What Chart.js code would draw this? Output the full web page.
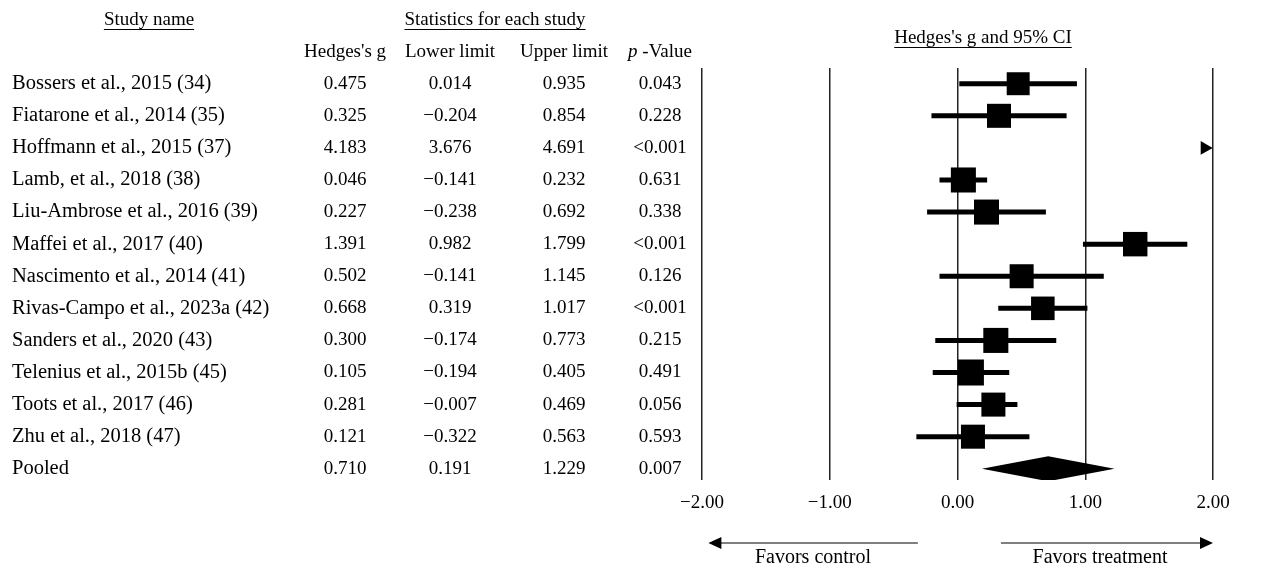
<!DOCTYPE html>
<html>
<head>
<meta charset="utf-8">
<script src="https://cdn.jsdelivr.net/npm/chart.js@4.4.0/dist/chart.umd.min.js"></script>
<style>
  html, body { margin: 0; padding: 0; background: #fff; }
</style>
</head>
<body>
<canvas id="forest" width="1262" height="571"></canvas>
<script>
const studies = [
  'Bossers et al., 2015 (34)',
  'Fiatarone et al., 2014 (35)',
  'Hoffmann et al., 2015 (37)',
  'Lamb, et al., 2018 (38)',
  'Liu-Ambrose et al., 2016 (39)',
  'Maffei et al., 2017 (40)',
  'Nascimento et al., 2014 (41)',
  'Rivas-Campo et al., 2023a (42)',
  'Sanders et al., 2020 (43)',
  'Telenius et al., 2015b (45)',
  'Toots et al., 2017 (46)',
  'Zhu et al., 2018 (47)'
];
const hedgesG    = [0.475, 0.325, 4.183, 0.046, 0.227, 1.391, 0.502, 0.668, 0.300, 0.105, 0.281, 0.121];
const lowerLimit = [0.014, -0.204, 3.676, -0.141, -0.238, 0.982, -0.141, 0.319, -0.174, -0.194, -0.007, -0.322];
const upperLimit = [0.935, 0.854, 4.691, 0.232, 0.692, 1.799, 1.145, 1.017, 0.773, 0.405, 0.469, 0.563];
const pValues    = ['0.043', '0.228', '<0.001', '0.631', '0.338', '<0.001', '0.126', '<0.001', '0.215', '0.491', '0.056', '0.593'];
// relative weights (%)
const weights    = [7.4, 8.1, 8.1, 8.8, 8.8, 8.4, 8.1, 7.8, 8.8, 9.5, 8.1, 8.1];

const pooledLabel = 'Pooled';
const pooledG = 0.710;
const pooledLower = 0.191;
const pooledUpper = 1.229;
const pooledP = '0.007';

const xTicks = [-2, -1, 0, 1, 2];
const xMin = xTicks[0];
const xMax = xTicks[xTicks.length - 1];

const SERIF = '"Liberation Serif", "Times New Roman", serif';
const pooledRow = studies.length;

function fmt(v) {
  const s = Math.abs(v).toFixed(3);
  return v < 0 ? '\u2212' + s : s;
}
function tickFmt(v) {
  const s = Math.abs(v).toFixed(2);
  return v < 0 ? '\u2212' + s : s;
}

function underlined(ctx, text, cx, cy) {
  ctx.textAlign = 'center';
  ctx.fillText(text, cx, cy);
  const w = ctx.measureText(text).width;
  ctx.fillRect(cx - w / 2, cy + 9, w, 1);
}

function arrow(ctx, x1, x2, y) {
  // shaft from x1 to tip at x2
  const dir = Math.sign(x2 - x1);
  ctx.beginPath();
  ctx.moveTo(x1, y);
  ctx.lineTo(x2 - dir * 10, y);
  ctx.lineWidth = 1.2;
  ctx.stroke();
  ctx.beginPath();
  ctx.moveTo(x2, y);
  ctx.lineTo(x2 - dir * 13, y - 6);
  ctx.lineTo(x2 - dir * 13, y + 6);
  ctx.closePath();
  ctx.fill();
}

const tablePlugin = {
  id: 'forestTable',
  afterDraw(chart) {
    const { ctx, scales: { x, y } } = chart;
    const cols = [345, 450, 564, 660];
    ctx.save();
    ctx.fillStyle = '#000';
    ctx.strokeStyle = '#000';
    ctx.textBaseline = 'middle';
    ctx.font = '19px ' + SERIF;

    // headers
    underlined(ctx, 'Study name', 149, 20);
    underlined(ctx, 'Statistics for each study', 495, 20);
    underlined(ctx, "Hedges's g and 95% CI", 983, 38);
    ctx.textAlign = 'center';
    ctx.fillText("Hedges's g", cols[0], 52);
    ctx.fillText('Lower limit', cols[1], 52);
    ctx.fillText('Upper limit', cols[2], 52);
    // p-Value with italic p
    ctx.font = 'italic 19px ' + SERIF;
    const pw = ctx.measureText('p').width;
    ctx.font = '19px ' + SERIF;
    const rest = ' -Value';
    const rw = ctx.measureText(rest).width;
    const start = cols[3] - (pw + rw) / 2;
    ctx.textAlign = 'left';
    ctx.font = 'italic 19px ' + SERIF;
    ctx.fillText('p', start, 52);
    ctx.font = '19px ' + SERIF;
    ctx.fillText(rest, start + pw, 52);

    // rows
    const rows = studies.map((name, i) => [name, hedgesG[i], lowerLimit[i], upperLimit[i], pValues[i]]);
    rows.push([pooledLabel, pooledG, pooledLower, pooledUpper, pooledP]);
    rows.forEach((r, i) => {
      const py = y.getPixelForValue(i);
      ctx.textAlign = 'left';
      ctx.font = '20.5px ' + SERIF;
      ctx.fillText(r[0], 12, py);
      ctx.font = '19px ' + SERIF;
      ctx.textAlign = 'center';
      ctx.fillText(fmt(r[1]), cols[0], py);
      ctx.fillText(fmt(r[2]), cols[1], py);
      ctx.fillText(fmt(r[3]), cols[2], py);
      ctx.fillText(r[4], cols[3], py);
    });

    // favours arrows
    const ay = 543;
    arrow(ctx, x.getPixelForValue(-0.31), x.getPixelForValue(-1.95), ay);
    arrow(ctx, x.getPixelForValue(0.34), x.getPixelForValue(2.0), ay);
    ctx.font = '20px ' + SERIF;
    ctx.textAlign = 'center';
    ctx.fillText('Favors control', 813, 558);
    ctx.fillText('Favors treatment', 1100, 558);
    ctx.restore();
  }
};

const ciLines = studies.map((s, i) => ({
  data: [{ x: lowerLimit[i], y: i }, { x: upperLimit[i], y: i }],
  showLine: true,
  borderColor: '#000',
  borderWidth: 5,
  pointRadius: 0
}));

const squares = {
  data: hedgesG.map((g, i) => ({ x: g, y: i })),
  pointStyle: 'rect',
  pointRadius: weights.map(w => 8.44 * Math.sqrt(w) / Math.SQRT2),
  backgroundColor: '#000',
  borderWidth: 0
};

// studies whose estimate lies off the right edge get an arrow marker
const offScale = {
  data: hedgesG.map((g, i) => g > xMax ? { x: xMax - 0.065, y: i } : null).filter(Boolean),
  pointStyle: 'triangle',
  rotation: 90,
  pointRadius: 8,
  backgroundColor: '#000',
  borderWidth: 0
};

const diamond = {
  data: [
    { x: pooledLower, y: pooledRow },
    { x: pooledG, y: pooledRow - 0.39 },
    { x: pooledUpper, y: pooledRow },
    { x: pooledG, y: pooledRow + 0.39 },
    { x: pooledLower, y: pooledRow }
  ],
  showLine: true,
  fill: 'shape',
  clip: false,
  backgroundColor: '#000',
  borderColor: '#000',
  borderWidth: 0,
  pointRadius: 0,
  tension: 0
};

new Chart(document.getElementById('forest'), {
  type: 'scatter',
  data: { datasets: [...ciLines, squares, offScale, diamond] },
  options: {
    responsive: false,
    animation: false,
    events: [],
    layout: { padding: { left: 702, right: 49, top: 68, bottom: 57 } },
    plugins: { legend: { display: false }, tooltip: { enabled: false } },
    scales: {
      x: {
        type: 'linear',
        min: xMin,
        max: xMax,
        afterBuildTicks: scale => { scale.ticks = xTicks.map(v => ({ value: v })); },
        afterFit: scale => { scale.height = 34; },
        border: { display: false },
        grid: { color: '#222', lineWidth: 1.5, drawTicks: false },
        ticks: {
          padding: 12,
          color: '#000',
          font: { family: SERIF, size: 19 },
          callback: v => tickFmt(v)
        }
      },
      y: {
        type: 'linear',
        reverse: true,
        min: -0.49,
        max: 12.35,
        display: false
      }
    }
  },
  plugins: [tablePlugin]
});
</script>
</body>
</html>
